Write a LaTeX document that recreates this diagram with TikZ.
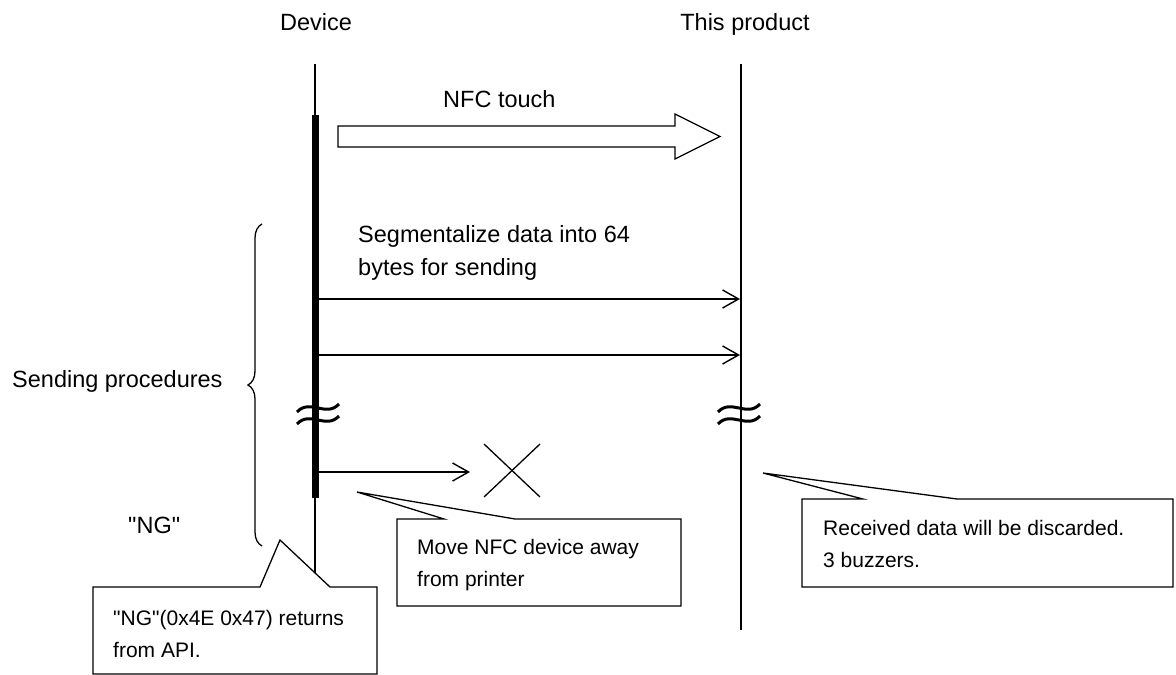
\documentclass[tikz,border=0pt]{standalone}
\usepackage{fontspec}
\setmainfont{Liberation Sans}
\usetikzlibrary{arrows.meta,decorations.pathreplacing}
\tikzset{
  life/.style={line width=2pt},
  active/.style={line width=7pt},
  msg/.style={line width=1.4pt,-{Straight Barb[length=16pt,width=18pt]}},
  callout/.style={draw,fill=white,line width=1.3pt,line join=miter},
  txt/.style={inner sep=0pt,anchor=base west,align=left,font=\fontsize{21}{32}\selectfont},
  lbl/.style={txt,font=\fontsize{23.5}{33}\selectfont},
  wave/.style={line width=3pt}
}
\begin{document}
\begin{tikzpicture}[x=1pt,y=-1pt]
\useasboundingbox (0,0) rectangle (1176,675);
% lifelines
\coordinate (devtop) at (315,64);
\coordinate (devend) at (315,660);
\coordinate (prodtop) at (741,64);
\coordinate (prodend) at (741,630);
\draw[life] (devtop) -- (devend);
\draw[life] (prodtop) -- (prodend);
\draw[active] (315,115) -- (315,498);
\node[lbl,anchor=base] (device) at (316,30) {Device};
\node[lbl,anchor=base] (product) at (745,30) {This product};
% NFC touch
\draw[line width=1.3pt] (338,126) -- (675,126) -- (675,114) -- (720,136.5)
  -- (675,159) -- (675,147) -- (338,147) -- cycle;
\node[lbl] (touch) at (443,107) {NFC touch};
% data blocks
\node[lbl] (seg) at (358,275) {Segmentalize data into 64\\bytes for sending};
\coordinate (d1) at (316,299); \coordinate (p1) at (740,299);
\coordinate (d2) at (316,355); \coordinate (p2) at (740,355);
\coordinate (d3) at (316,472); \coordinate (x3) at (470,472);
\draw[msg] (d1) -- (p1);
\draw[msg] (d2) -- (p2);
\draw[msg] (d3) -- (x3);
\draw[line width=1.3pt] (484,444) -- (540,497) (484,497) -- (540,444);
% breaks
\foreach \x in {318,739}
  {\foreach \y in {408,420}
    {\draw[wave] (\x-21,\y+4) .. controls (\x-8,\y-10) and (\x+8,\y+10) .. (\x+21,\y-4);}}
% brace
\draw[line width=1.3pt,decorate,decoration={brace,amplitude=14pt}] (262,546) -- (262,224);
\node[lbl] (proc) at (12,387) {Sending procedures};
\node[lbl] (ng) at (128,533) {\textquotedbl NG\textquotedbl};
% callouts
\draw[callout] (93,587) -- (260,587) -- (280,540) -- (330,587) -- (377,587)
  -- (377,674) -- (93,674) -- cycle;
\node[txt] (api) at (113,657) {\textquotedbl NG\textquotedbl(0x4E 0x47) returns\\from API.};
\draw[callout] (397,519) -- (444,519) -- (357,492) -- (515,519) -- (681,519)
  -- (681,606) -- (397,606) -- cycle;
\node[txt] (away) at (417,586) {Move NFC device away\\from printer};
\draw[callout] (802,499) -- (863,499) -- (763,473) -- (957,499) -- (1173,499)
  -- (1173,587) -- (802,587) -- cycle;
\node[txt] (discard) at (823,567) {Received data will be discarded.\\3 buzzers.};
\end{tikzpicture}
\end{document}
